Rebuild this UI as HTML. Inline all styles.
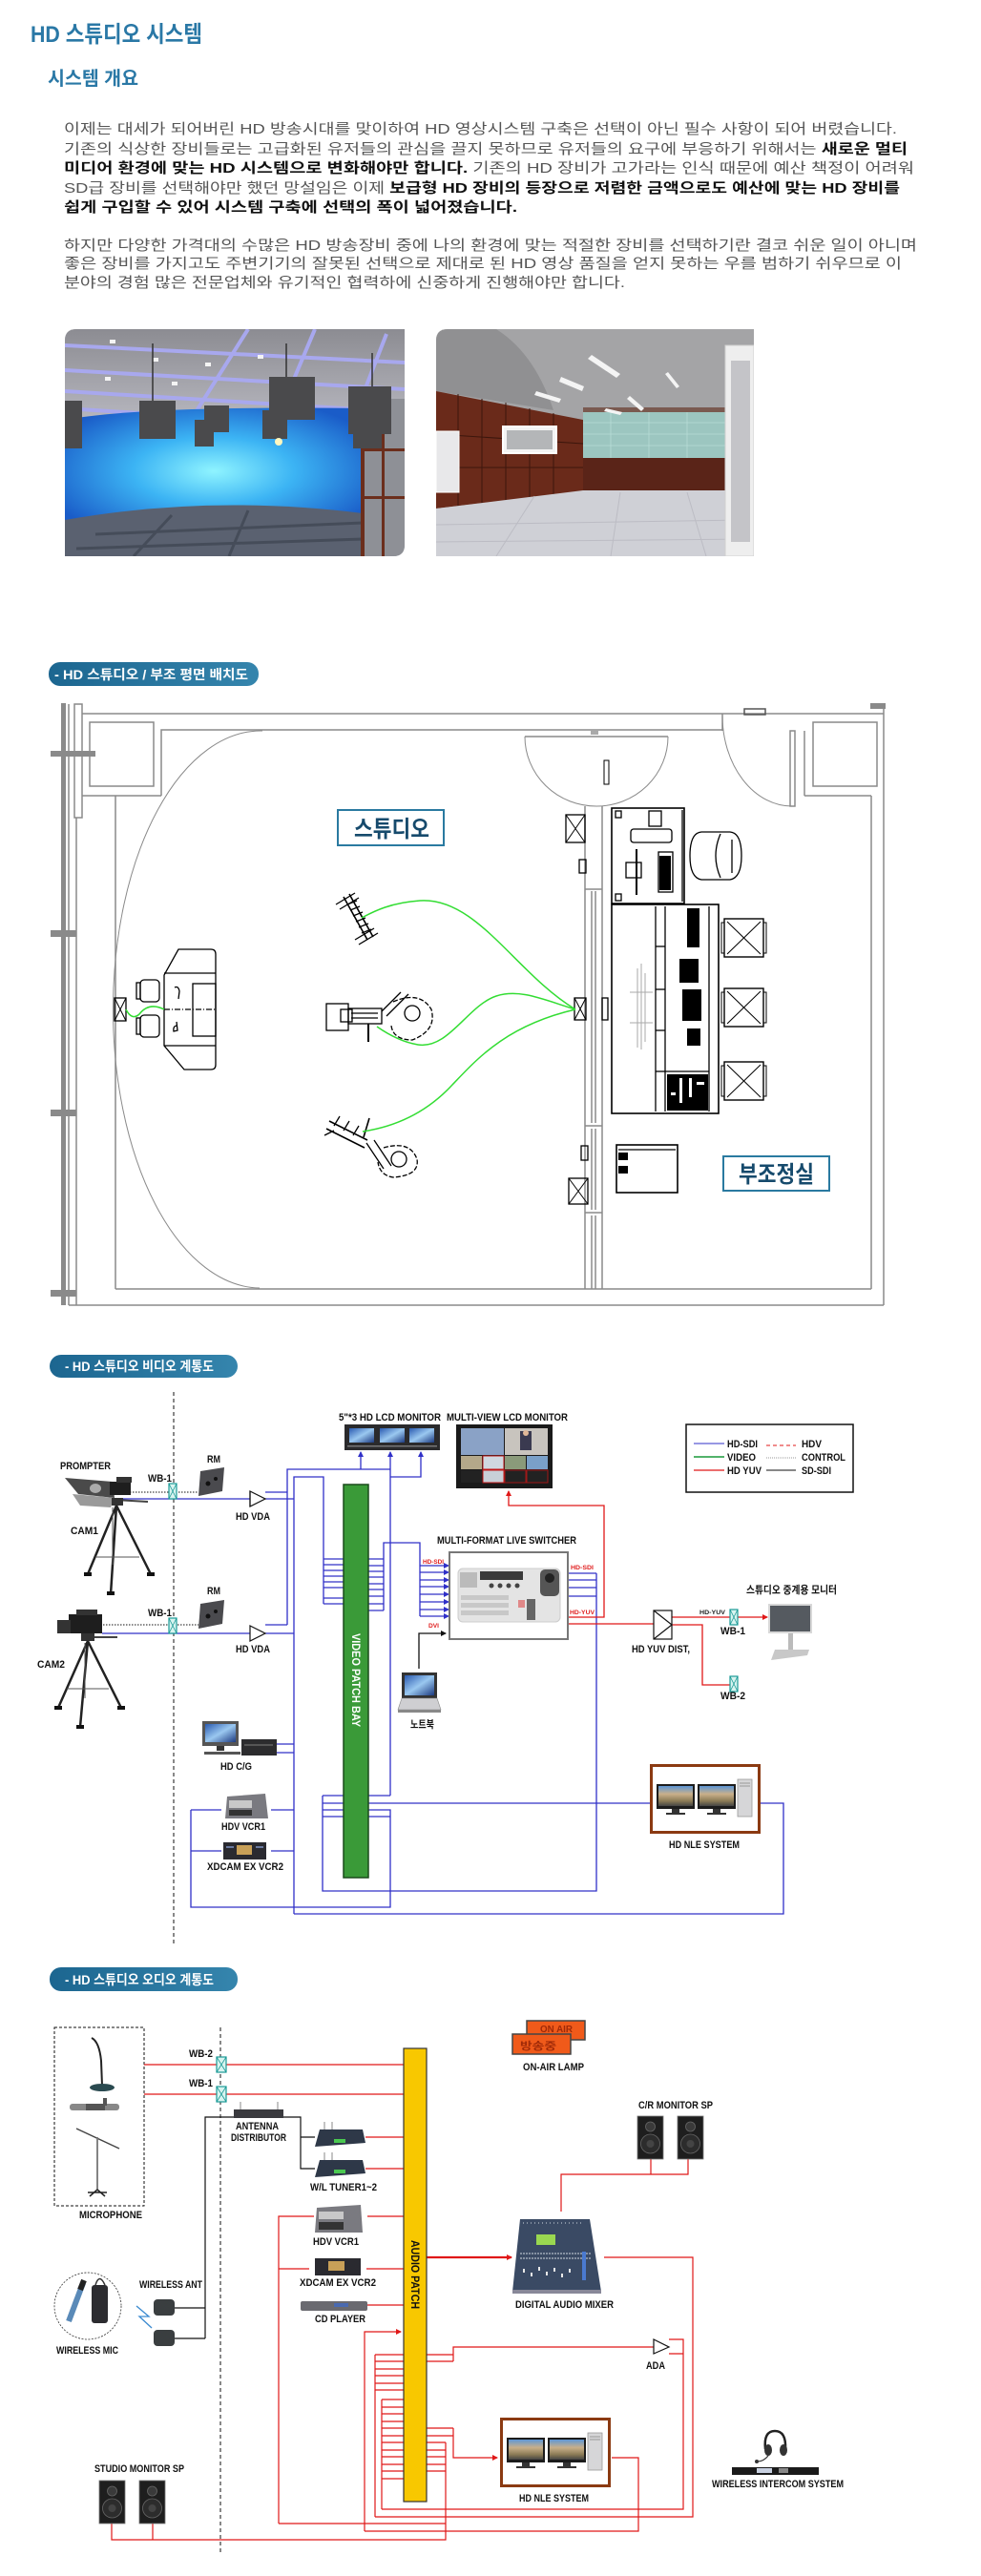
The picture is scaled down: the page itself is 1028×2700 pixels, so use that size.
<!DOCTYPE html>
<html><head><meta charset="utf-8"><style>
html,body{margin:0;padding:0;background:#fff;}
body{width:1028px;height:2700px;overflow:hidden;}
svg{display:block;}
text{font-family:"Liberation Sans","Noto Sans CJK KR",sans-serif;}
.l{font-size:11px;font-weight:bold;fill:#111;}
.s{font-size:6px;font-weight:bold;fill:#e02020;}
.p{font-size:15px;fill:#555;}
.b{font-weight:bold;fill:#111;}
</style></head><body>
<svg width="1028" height="2700" viewBox="0 0 1028 2700" xmlns="http://www.w3.org/2000/svg">
<defs>
<linearGradient id="pill" x1="0" y1="0" x2="1" y2="0"><stop offset="0" stop-color="#1c6690"/><stop offset="1" stop-color="#3585ad"/></linearGradient>
<linearGradient id="ceil" x1="0" y1="0" x2="0" y2="1"><stop offset="0" stop-color="#8c8c92"/><stop offset="1" stop-color="#b8b8c0"/></linearGradient>
<radialGradient id="cyc" cx="0.5" cy="0.5" r="0.6"><stop offset="0" stop-color="#8ff4ff"/><stop offset="0.45" stop-color="#3cb4f4"/><stop offset="1" stop-color="#1a5cc8"/></radialGradient>
<linearGradient id="bld" x1="0" y1="0" x2="0" y2="1"><stop offset="0" stop-color="#5d96d6"/><stop offset="0.4" stop-color="#c9b08a"/><stop offset="0.75" stop-color="#8a7a55"/><stop offset="1" stop-color="#444"/></linearGradient>
<linearGradient id="scr" x1="0" y1="0" x2="1" y2="1"><stop offset="0" stop-color="#2a5ab0"/><stop offset="0.5" stop-color="#9ac8f0"/><stop offset="1" stop-color="#1c3a80"/></linearGradient>
<marker id="ab" markerWidth="6" markerHeight="6" refX="5" refY="3" orient="auto" markerUnits="userSpaceOnUse"><path d="M0,0 L6,3 L0,6 Z" fill="#3030c8"/></marker>
<marker id="ar" markerWidth="6" markerHeight="6" refX="5" refY="3" orient="auto" markerUnits="userSpaceOnUse"><path d="M0,0 L6,3 L0,6 Z" fill="#e01818"/></marker>
<marker id="ak" markerWidth="6" markerHeight="6" refX="5" refY="3" orient="auto" markerUnits="userSpaceOnUse"><path d="M0,0 L6,3 L0,6 Z" fill="#111"/></marker>
<clipPath id="cp1"><path d="M80,345 H424 V571 Q424,583 412,583 H68 V357 Q68,345 80,345 Z"/></clipPath>
<clipPath id="cp2"><path d="M469,345 H790 V583 H457 V357 Q457,345 469,345 Z"/></clipPath>
<g id="nle">
 <rect x="1.5" y="1.5" width="113" height="70" fill="#fff" stroke="#8b3a12" stroke-width="3"/>
 <rect x="7" y="21" width="40" height="26" fill="#1c1c1c"/><rect x="9" y="23" width="36" height="21" fill="url(#bld)"/>
 <rect x="23" y="47" width="8" height="4" fill="#333"/><rect x="17" y="51" width="20" height="2" fill="#333"/>
 <rect x="50" y="21" width="40" height="26" fill="#1c1c1c"/><rect x="52" y="23" width="36" height="21" fill="url(#bld)"/>
 <rect x="66" y="47" width="8" height="4" fill="#333"/><rect x="60" y="51" width="20" height="2" fill="#333"/>
 <rect x="92" y="16" width="15" height="39" fill="#d6d6d8" stroke="#999" stroke-width="0.8"/>
 <line x1="94" y1="20" x2="105" y2="20" stroke="#999"/><line x1="94" y1="23" x2="105" y2="23" stroke="#999"/>
</g>
<g id="spk">
 <rect width="27" height="45" fill="#1e1e1e" stroke="#777" stroke-width="0.8"/>
 <circle cx="13.5" cy="11" r="5" fill="#3a3a3a" stroke="#666" stroke-width="0.8"/>
 <circle cx="13.5" cy="29" r="10" fill="#2c2c2c" stroke="#666" stroke-width="0.8"/>
 <circle cx="13.5" cy="29" r="4" fill="#444"/>
</g>
<g id="wbv"><rect x="0" y="0" width="8" height="16" fill="#d8f4f0" stroke="#1a9a96" stroke-width="1.2"/><path d="M0,0 L8,16 M8,0 L0,16" stroke="#1a9a96" stroke-width="0.8"/></g>
<g id="wba"><rect x="0" y="0" width="10" height="16" fill="#d8f4f0" stroke="#1a9a96" stroke-width="1.2"/><path d="M0,0 L10,16 M10,0 L0,16" stroke="#1a9a96" stroke-width="0.8"/></g>
<g id="xch"><rect x="0" y="0" width="41" height="40" fill="none" stroke="#000" stroke-width="1.4"/><path d="M3,3 L38,37 M38,3 L3,37" stroke="#000" stroke-width="1"/><rect x="-3" y="4" width="3" height="32" fill="none" stroke="#000"/><rect x="41" y="4" width="3" height="32" fill="none" stroke="#000"/></g>
</defs>

<!-- ===== HEADER ===== -->
<text x="32" y="44" font-size="24" font-weight="bold" fill="#2a78a6" textLength="180" lengthAdjust="spacingAndGlyphs">HD 스튜디오 시스템</text>
<text x="50" y="89" font-size="20" font-weight="bold" fill="#2a78a6" textLength="95" lengthAdjust="spacingAndGlyphs">시스템 개요</text>

<text class="p" x="67" y="140" textLength="873" lengthAdjust="spacingAndGlyphs">이제는 대세가 되어버린 HD 방송시대를 맞이하여 HD 영상시스템 구축은 선택이 아닌 필수 사항이 되어 버렸습니다.</text>
<text class="p" x="67" y="161" textLength="884" lengthAdjust="spacingAndGlyphs">기존의 식상한 장비들로는 고급화된 유저들의 관심을 끌지 못하므로 유저들의 요구에 부응하기 위해서는 <tspan class="b">새로운 멀티</tspan></text>
<text class="p" x="67" y="181" textLength="891" lengthAdjust="spacingAndGlyphs"><tspan class="b">미디어 환경에 맞는 HD 시스템으로 변화해야만 합니다.</tspan>  기존의  HD 장비가 고가라는 인식 때문에 예산 책정이 어려워</text>
<text class="p" x="67" y="202" textLength="876" lengthAdjust="spacingAndGlyphs">SD급 장비를 선택해야만 했던 망설임은 이제 <tspan class="b">보급형 HD 장비의 등장으로 저렴한 금액으로도 예산에 맞는 HD 장비를</tspan></text>
<text class="p b" x="67" y="222" textLength="475" lengthAdjust="spacingAndGlyphs">쉽게 구입할 수 있어 시스템 구축에 선택의 폭이 넓어졌습니다.</text>
<text class="p" x="67" y="262" textLength="894" lengthAdjust="spacingAndGlyphs">하지만 다양한 가격대의 수많은 HD 방송장비 중에 나의 환경에 맞는 적절한 장비를 선택하기란 결코 쉬운 일이 아니며</text>
<text class="p" x="67" y="281" textLength="878" lengthAdjust="spacingAndGlyphs">좋은 장비를 가지고도 주변기기의 잘못된 선택으로 제대로 된 HD 영상 품질을 얻지 못하는 우를 범하기 쉬우므로 이</text>
<text class="p" x="67" y="301" textLength="588" lengthAdjust="spacingAndGlyphs">분야의 경험 많은 전문업체와 유기적인 협력하에 신중하게 진행해야만 합니다.</text>

<!-- ===== PHOTOS ===== -->
<g clip-path="url(#cp1)">
 <rect x="68" y="345" width="356" height="238" fill="#9c9ca4"/>
 <rect x="68" y="345" width="356" height="100" fill="url(#ceil)"/>
 <g stroke="#a8a8ee" stroke-width="4">
  <line x1="68" y1="362" x2="424" y2="380"/><line x1="68" y1="388" x2="424" y2="408"/><line x1="68" y1="410" x2="424" y2="432"/><line x1="68" y1="428" x2="380" y2="448"/>
  <line x1="260" y1="345" x2="200" y2="440"/><line x1="330" y1="345" x2="290" y2="440"/><line x1="405" y1="350" x2="370" y2="440"/>
 </g>
 <g fill="#f4f4f4"><rect x="115" y="356" width="6" height="4"/><rect x="160" y="375" width="6" height="4"/><rect x="215" y="380" width="6" height="4"/><rect x="270" y="372" width="6" height="4"/><rect x="110" y="395" width="6" height="4"/><rect x="180" y="400" width="6" height="4"/></g>
 <path d="M68,440 Q150,425 380,428 V560 H68 Z" fill="url(#cyc)"/>
 <path d="M68,545 Q220,518 380,538 V583 H68 Z" fill="#5a6170"/>
 <path d="M100,560 L380,548 M80,575 L380,565 M180,540 L140,583 M260,535 L240,583" stroke="#3d4450" stroke-width="3" opacity="0.7"/>
 <rect x="378" y="418" width="46" height="165" fill="#8e9096"/>
 <g fill="#6b2e1c"><rect x="378" y="418" width="4" height="165"/><rect x="400" y="430" width="3" height="153"/><rect x="378" y="470" width="46" height="3"/><rect x="378" y="520" width="46" height="3"/></g>
 <g fill="#4a4a4c">
  <rect x="68" y="420" width="18" height="50"/><rect x="146" y="420" width="38" height="40"/><rect x="204" y="440" width="20" height="28"/><rect x="214" y="425" width="26" height="28"/>
  <rect x="282" y="395" width="48" height="45"/><rect x="275" y="430" width="26" height="30"/><rect x="365" y="405" width="45" height="50"/><rect x="370" y="440" width="30" height="30"/>
 </g>
 <g stroke="#333" stroke-width="1.5"><line x1="160" y1="360" x2="160" y2="420"/><line x1="300" y1="360" x2="300" y2="395"/><line x1="390" y1="370" x2="390" y2="405"/></g>
 <circle cx="292" cy="463" r="4" fill="#fff7c0"/>
</g>
<g clip-path="url(#cp2)">
 <rect x="457" y="345" width="333" height="238" fill="#a4a4a6"/>
 <path d="M520,345 Q560,370 580,430 L457,410 V345 Z" fill="#909092"/>
 <polygon points="457,410 611,440 611,515 457,533" fill="#6a2a1a"/>
 <g stroke="#3c160c" stroke-width="1"><line x1="480" y1="413" x2="480" y2="532"/><line x1="505" y1="418" x2="505" y2="528"/><line x1="530" y1="422" x2="530" y2="525"/><line x1="555" y1="428" x2="555" y2="522"/><line x1="580" y1="433" x2="580" y2="518"/><line x1="457" y1="455" x2="611" y2="465"/><line x1="457" y1="490" x2="611" y2="490"/></g>
 <rect x="611" y="431" width="153" height="49" fill="#9cc6c0"/>
 <g stroke="#b8dcd6" stroke-width="0.8"><line x1="611" y1="443" x2="764" y2="443"/><line x1="611" y1="455" x2="764" y2="455"/><line x1="611" y1="467" x2="764" y2="467"/><line x1="640" y1="431" x2="640" y2="480"/><line x1="680" y1="431" x2="680" y2="480"/><line x1="720" y1="431" x2="720" y2="480"/></g>
 <rect x="611" y="427" width="153" height="5" fill="#7a5a50"/>
 <rect x="611" y="480" width="153" height="34" fill="#5a2418"/>
 <polygon points="457,533 611,514 764,514 790,583 457,583" fill="#cfd0d6"/>
 <g stroke="#bcbcc4" stroke-width="1"><line x1="457" y1="550" x2="780" y2="545"/><line x1="457" y1="568" x2="790" y2="565"/><line x1="560" y1="520" x2="520" y2="583"/><line x1="650" y1="516" x2="640" y2="583"/><line x1="720" y1="516" x2="740" y2="583"/></g>
 <rect x="527" y="447" width="56" height="28" fill="#f4f4f4" stroke="#fff" stroke-width="2"/>
 <rect x="531" y="451" width="48" height="20" fill="#b4b6b8"/>
 <rect x="457" y="452" width="24" height="64" fill="#e8e8ea" stroke="#fff"/>
 <rect x="760" y="362" width="30" height="221" fill="#eeeeee" stroke="#d0d0d0"/>
 <rect x="766" y="378" width="20" height="190" fill="#c4c4c8"/>
 <g fill="#f4f4f4"><polygon points="620,372 650,392 646,396 616,376"/><polygon points="588,395 612,405 610,410 586,400"/><polygon points="562,410 588,418 586,422 560,414"/><polygon points="660,415 675,428 672,431 657,418"/><polygon points="700,390 712,405 709,407 697,392"/><polygon points="635,428 652,432 650,435 633,431"/></g>
</g>

<!-- ===== PILL 1 ===== -->
<rect x="51" y="694" width="220" height="25" rx="12" fill="url(#pill)"/>
<text x="57" y="712" font-size="14" font-weight="bold" fill="#fff" textLength="203" lengthAdjust="spacingAndGlyphs">- HD 스튜디오 / 부조 평면 배치도</text>

<!-- ===== FLOOR PLAN ===== -->
<g fill="#8a8a8a">
 <rect x="64" y="737" width="5" height="631"/>
 <rect x="53" y="787" width="47" height="6"/><rect x="53" y="975" width="27" height="7"/><rect x="53" y="1163" width="27" height="7"/><rect x="53" y="1352" width="27" height="7"/>
 <rect x="912" y="737" width="16" height="6"/>
</g>
<g fill="none" stroke="#8a8a8a" stroke-width="1.5">
 <line x1="72" y1="738" x2="72" y2="1368"/>
 <rect x="78" y="738" width="8" height="119"/>
 <line x1="80" y1="857" x2="80" y2="1368"/>
 <line x1="86" y1="748" x2="926" y2="748"/>
 <line x1="926" y1="743" x2="926" y2="1368"/>
 <line x1="72" y1="1368" x2="926" y2="1368"/>
 <path d="M169,834 V765 H757"/>
 <line x1="86" y1="834" x2="169" y2="834"/>
 <line x1="121" y1="834" x2="121" y2="1351"/>
 <line x1="121" y1="1351" x2="913" y2="1351"/>
 <line x1="913" y1="834" x2="913" y2="1351"/>
 <line x1="843" y1="834" x2="913" y2="834"/>
 <rect x="94" y="757" width="67" height="67"/>
 <rect x="852" y="757" width="67" height="67"/>
 <line x1="757" y1="748" x2="757" y2="766"/>
 <rect x="828" y="766" width="5" height="79"/>
 <rect x="780" y="743" width="22" height="6" stroke="#555"/>
 <line x1="550" y1="772" x2="700" y2="772"/>
 <line x1="843" y1="766" x2="843" y2="834"/>
 <line x1="613" y1="845" x2="613" y2="1351"/>
 <line x1="631" y1="845" x2="631" y2="1351"/>
 <line x1="620" y1="934" x2="620" y2="1177"/><line x1="624" y1="934" x2="624" y2="1177"/>
 <line x1="620" y1="1183" x2="620" y2="1268"/><line x1="624" y1="1183" x2="624" y2="1268"/>
 <line x1="620" y1="1274" x2="620" y2="1351"/><line x1="624" y1="1274" x2="624" y2="1351"/>
 <line x1="613" y1="932" x2="631" y2="932"/><line x1="613" y1="1180" x2="631" y2="1180"/><line x1="613" y1="1271" x2="631" y2="1271"/>
</g>
<g fill="none" stroke="#8a8a8a" stroke-width="1">
 <path d="M275,766 A155,292 0 0 0 272,1350"/>
 <path d="M550,772 A75,73 0 0 0 700,772"/>
 <path d="M757,750 A73,95 0 0 0 830,845"/>
</g>
<rect x="619" y="766" width="8" height="4" fill="#aaa"/>
<rect x="633" y="797" width="5" height="25" fill="#fff" stroke="#000" stroke-width="1"/>

<!-- labels -->
<rect x="354" y="849" width="111" height="37" fill="#fff" stroke="#2a7aa0" stroke-width="2"/>
<text x="371" y="877" font-size="24" font-weight="bold" fill="#164a6c" textLength="79" lengthAdjust="spacingAndGlyphs">스튜디오</text>
<rect x="758" y="1212" width="111" height="36" fill="#fff" stroke="#2a7aa0" stroke-width="2"/>
<text x="774" y="1239" font-size="24" font-weight="bold" fill="#164a6c" textLength="79" lengthAdjust="spacingAndGlyphs">부조정실</text>

<!-- control room furniture -->
<g fill="none" stroke="#000" stroke-width="1.3">
 <rect x="641" y="847" width="76" height="100" stroke-width="1.6"/>
 <line x1="715" y1="849" x2="715" y2="945"/>
 <rect x="645" y="850" width="6" height="7"/><rect x="645" y="937" width="6" height="7"/>
 <rect x="680" y="850" width="13" height="16"/>
 <rect x="661" y="869" width="43" height="14" rx="3"/>
 <line x1="667" y1="890" x2="667" y2="938" stroke-width="2"/>
 <rect x="656" y="904" width="16" height="16"/>
 <rect x="690" y="893" width="15" height="42"/>
 <path d="M735,872 Q723,873 723,897 Q723,920 735,922 L765,922 Q777,920 777,897 Q777,873 765,872 Z"/>
 <path d="M755,874 Q745,897 755,920"/><line x1="767" y1="880" x2="767" y2="915"/>
 <rect x="641" y="948" width="112" height="219" stroke-width="1.6"/>
 <line x1="687" y1="950" x2="687" y2="1165"/><line x1="697" y1="950" x2="697" y2="1165"/>
 <line x1="687" y1="992" x2="697" y2="992"/><line x1="687" y1="1037" x2="697" y2="1037"/><line x1="687" y1="1080" x2="697" y2="1080"/><line x1="687" y1="1123" x2="697" y2="1123"/>
 <line x1="743" y1="950" x2="743" y2="1165"/><line x1="697" y1="1123" x2="743" y2="1123"/>
 <rect x="646" y="1200" width="64" height="50" stroke-width="1.6"/>
 <line x1="648" y1="1205" x2="708" y2="1205"/>
 <rect x="593" y="854" width="20" height="29"/><path d="M593,854 L613,883 M613,854 L593,883" stroke-width="1"/>
 <rect x="602" y="1046" width="12" height="23"/><path d="M602,1046 L614,1069 M614,1046 L602,1069" stroke-width="1"/>
 <rect x="596" y="1235" width="20" height="27"/><path d="M596,1235 L616,1262 M616,1235 L596,1262" stroke-width="1"/>
 <rect x="607" y="901" width="7" height="14"/><rect x="609" y="1201" width="7" height="15"/>
 <rect x="631" y="1046" width="6" height="23"/>
</g>
<g fill="none" stroke="#aaa" stroke-width="1"><line x1="668" y1="1015" x2="668" y2="1098"/><line x1="672" y1="1010" x2="672" y2="1100"/><line x1="676" y1="1020" x2="676" y2="1092"/><line x1="660" y1="1040" x2="684" y2="1040"/><line x1="660" y1="1072" x2="684" y2="1072"/></g>
<g fill="#000">
 <rect x="691" y="897" width="12" height="36"/>
 <rect x="720" y="952" width="13" height="41"/><rect x="712" y="1005" width="20" height="25"/><rect x="715" y="1037" width="20" height="33"/><rect x="720" y="1078" width="14" height="18"/>
 <rect x="699" y="1126" width="43" height="38"/>
 <rect x="648" y="1208" width="10" height="8"/><rect x="648" y="1222" width="10" height="8"/>
</g>
<g fill="#fff"><rect x="712" y="1130" width="3" height="26"/><rect x="722" y="1130" width="3" height="20"/><rect x="730" y="1134" width="8" height="3"/><rect x="703" y="1145" width="5" height="3"/></g>
<use href="#xch" x="759" y="963"/><use href="#xch" x="759" y="1036"/><use href="#xch" x="759" y="1113"/>

<!-- studio items -->
<g fill="none" stroke="#000" stroke-width="1.3">
 <path d="M187,995 H221 Q226,995 226,1000 V1116 Q226,1121 221,1121 H193 L172,1096 V1022 Z"/>
 <line x1="172" y1="1020" x2="226" y2="1020"/><line x1="172" y1="1096" x2="226" y2="1096"/>
 <rect x="202" y="1031" width="24" height="55"/>
 <line x1="172" y1="1058" x2="226" y2="1058" stroke-dasharray="6,2,1,2"/>
 <rect x="147" y="1027" width="20" height="23" rx="4"/><rect x="143" y="1030" width="4" height="17"/>
 <rect x="147" y="1064" width="20" height="23" rx="4"/><rect x="143" y="1067" width="4" height="17"/>
 <path d="M183,1035 q4,-2 5,4 l-1,8"/><path d="M186,1075 q-5,0 -4,6 l4,-1 l-1,-9"/>
 <rect x="120" y="1046" width="12" height="24"/><path d="M120,1046 L132,1070 M132,1046 L120,1070" stroke-width="1"/>
 <path d="M360,940 L385,985 M366,937 L391,982" stroke-width="1.6"/>
 <path d="M352,948 L372,936 M356,953 L376,941 M376,990 L396,978 M372,985 L392,973"/>
 <path d="M364,948 L374,944 M367,954 L377,950 M370,960 L380,956 M373,966 L383,962 M376,972 L386,968 M379,978 L389,974"/>
 <rect x="342" y="1052" width="23" height="28"/>
 <rect x="357" y="1058" width="12" height="13"/>
 <rect x="365" y="1057" width="35" height="16"/><line x1="368" y1="1062" x2="396" y2="1062"/><line x1="368" y1="1067" x2="396" y2="1067"/>
 <line x1="386" y1="1073" x2="386" y2="1092" stroke-width="2"/>
 <path d="M400,1060 L420,1040 M405,1065 L428,1042"/>
 <path d="M412,1050 Q440,1038 452,1058 Q458,1080 432,1090 Q412,1090 410,1075" stroke-dasharray="5,2"/>
 <circle cx="432" cy="1062" r="8"/>
 <path d="M345,1175 L385,1195 M342,1183 L382,1203" stroke-width="1.6"/>
 <path d="M350,1180 L356,1170 M360,1185 L366,1175 M370,1190 L376,1180"/>
 <line x1="381" y1="1192" x2="387" y2="1172" stroke-width="1.6"/>
 <path d="M384,1198 L402,1225 M392,1195 L410,1222"/>
 <path d="M402,1203 Q430,1195 437,1215 Q440,1232 412,1234 Q398,1232 396,1218" stroke-dasharray="5,2"/>
 <circle cx="418" cy="1215" r="8"/>
 <line x1="340" y1="1190" x2="350" y2="1185"/>
</g>
<g fill="none" stroke="#33dd33" stroke-width="1.5">
 <path d="M603,1058 C540,1020 500,940 440,944 C410,946 392,955 379,962"/>
 <path d="M603,1058 C570,1048 545,1036 520,1044 C490,1054 470,1100 438,1095 C420,1092 405,1083 395,1076"/>
 <path d="M603,1058 C530,1075 500,1110 474,1137 C450,1163 420,1180 380,1186"/>
 <path d="M132,1058 Q138,1070 146,1063 Q156,1050 172,1058"/>
</g>

<!-- ===== PILL 2 ===== -->
<rect x="52" y="1420" width="197" height="24" rx="12" fill="url(#pill)"/>
<text x="68" y="1437" font-size="14" font-weight="bold" fill="#fff" textLength="156" lengthAdjust="spacingAndGlyphs">- HD 스튜디오 비디오 계통도</text>

<!-- ===== VIDEO DIAGRAM ===== -->
<line x1="182" y1="1459" x2="182" y2="2038" stroke="#111" stroke-width="1" stroke-dasharray="4,3"/>

<rect x="719" y="1493" width="175" height="71" fill="#fff" stroke="#111" stroke-width="1.5"/>
<line x1="727" y1="1513" x2="759" y2="1513" stroke="#3030c8" stroke-width="1"/>
<line x1="727" y1="1527" x2="759" y2="1527" stroke="#1a9a3a" stroke-width="1.5"/>
<line x1="727" y1="1541" x2="759" y2="1541" stroke="#e01818" stroke-width="1.2"/>
<line x1="803" y1="1515" x2="834" y2="1515" stroke="#e01818" stroke-width="1" stroke-dasharray="4,3"/>
<line x1="803" y1="1528" x2="834" y2="1528" stroke="#777" stroke-width="0.7" stroke-dasharray="1,1"/>
<line x1="803" y1="1541" x2="834" y2="1541" stroke="#111" stroke-width="1"/>
<text class="l" x="762" y="1517" textLength="32" lengthAdjust="spacingAndGlyphs">HD-SDI</text>
<text class="l" x="762" y="1531" textLength="30" lengthAdjust="spacingAndGlyphs">VIDEO</text>
<text class="l" x="762" y="1545" textLength="36" lengthAdjust="spacingAndGlyphs">HD YUV</text>
<text class="l" x="840" y="1517" textLength="21" lengthAdjust="spacingAndGlyphs">HDV</text>
<text class="l" x="840" y="1531" textLength="46" lengthAdjust="spacingAndGlyphs">CONTROL</text>
<text class="l" x="840" y="1545" textLength="31" lengthAdjust="spacingAndGlyphs">SD-SDI</text>

<g fill="none" stroke="#3030c8" stroke-width="1.3">
 <line x1="127" y1="1571" x2="262" y2="1571"/>
 <line x1="107" y1="1712" x2="262" y2="1712"/>
 <path d="M278,1564 H301 M278,1571 H308 M278,1703 H301 M278,1712 H308"/>
 <path d="M301,1703 V1540 H409"/>
 <path d="M378,1540 V1522" marker-end="url(#ab)"/>
 <path d="M409,1882 V1522" marker-end="url(#ab)"/>
 <path d="M409,1548 H441 V1522" marker-end="url(#ab)"/>
 <path d="M308,2006 V1548 H339 V1681"/>
 <path d="M339,1634 H360 M339,1640 H360 M339,1646 H360 M339,1652 H360 M339,1658 H360 M339,1664 H360 M339,1675 H360 M339,1681 H360"/>
 <path d="M386,1634 H402 M386,1641 H402 M386,1647 H402 M386,1653 H402 M386,1660 H402 M386,1666 H402 M386,1673 H402 M386,1681 H402 M386,1688 H402"/>
 <path d="M402,1688 V1617 H440 V1694"/>
 <path d="M440,1641 H470" marker-end="url(#ab)"/><path d="M440,1648 H470" marker-end="url(#ab)"/><path d="M440,1656 H470" marker-end="url(#ab)"/><path d="M440,1663 H470" marker-end="url(#ab)"/>
 <path d="M440,1671 H470" marker-end="url(#ab)"/><path d="M440,1679 H470" marker-end="url(#ab)"/><path d="M440,1687 H470" marker-end="url(#ab)"/><path d="M440,1694 H470" marker-end="url(#ab)"/>
 <path d="M290,1828 H308 M290,1837 H308"/>
 <path d="M200,1897 H232 M284,1897 H308 M200,1940 H232 M284,1940 H308"/>
 <path d="M200,1897 V1999 H409 V1897 H386"/>
 <path d="M308,2006 H821 V1890 H797"/>
 <path d="M386,1890 H681"/>
 <path d="M386,1882 H409 M386,1904 H409"/>
 <path d="M338,1882 V1982 H625 V1649"/>
 <path d="M338,1882 H360 M338,1890 H360 M338,1897 H360 M338,1904 H360"/>
 <path d="M595,1649 H625 M595,1656 H625 M595,1664 H625 M595,1673 H625"/>
</g>
<g stroke="#111" stroke-width="1" stroke-dasharray="1.5,1.5"><line x1="133" y1="1564" x2="208" y2="1564"/><line x1="105" y1="1703" x2="208" y2="1703"/></g>
<g fill="none" stroke="#e01818" stroke-width="1.3">
 <path d="M595,1695 H633 V1578 H533 V1563" marker-end="url(#ar)"/>
 <path d="M595,1702 H685"/>
 <path d="M704,1695 H765 M772,1695 H804" marker-end="url(#ar)"/>
 <path d="M704,1703 H736 V1766 H765"/>
</g>
<path d="M439,1749 V1712 H467" fill="none" stroke="#111" stroke-width="1.3" marker-end="url(#ak)"/>

<use href="#wbv" x="177" y="1555"/><use href="#wbv" x="177" y="1696"/>
<use href="#wbv" x="765" y="1687"/><use href="#wbv" x="765" y="1757"/>
<g fill="#fff" stroke="#111" stroke-width="1.2">
 <path d="M262,1563 L278,1571 L262,1579 Z"/><line x1="262" y1="1563" x2="262" y2="1579"/>
 <path d="M262,1704 L278,1712 L262,1720 Z"/>
 <rect x="685" y="1688" width="19" height="30"/>
 <path d="M685,1688 L704,1703 L685,1718" fill="none"/>
</g>
<rect x="360" y="1556" width="26" height="412" fill="#3a9a38" stroke="#1a4a1a" stroke-width="1.5"/>
<text transform="translate(369,1712) rotate(90)" font-size="12" font-weight="bold" fill="#fff" textLength="98" lengthAdjust="spacingAndGlyphs">VIDEO PATCH BAY</text>

<rect x="361" y="1493" width="100" height="27" fill="#2a2a2c"/>
<rect x="366" y="1497" width="26" height="15" fill="url(#scr)"/><rect x="398" y="1497" width="26" height="15" fill="url(#scr)"/><rect x="429" y="1497" width="26" height="15" fill="url(#scr)"/>
<g fill="#777"><rect x="364" y="1515" width="94" height="1.5"/></g>
<rect x="478" y="1493" width="101" height="67" fill="#1a1a1a"/>
<rect x="483" y="1497" width="45" height="28" fill="#8aa2c6"/><rect x="529" y="1497" width="45" height="28" fill="#c8c4be"/>
<rect x="545" y="1500" width="12" height="20" fill="#3a3a50"/><circle cx="551" cy="1502" r="3" fill="#e0b898"/>
<rect x="483" y="1526" width="22" height="14" fill="#b4a88a"/><rect x="506" y="1526" width="22" height="14" fill="#d0d8e0" stroke="#c01818"/><rect x="529" y="1526" width="22" height="14" fill="#8a9a7a"/><rect x="552" y="1526" width="22" height="14" fill="#7aa0c8"/>
<rect x="483" y="1541" width="22" height="13" fill="#222"/><rect x="506" y="1541" width="22" height="13" fill="#c8d0d8" stroke="#c01818"/><rect x="529" y="1541" width="22" height="13" fill="#222" stroke="#a01818"/><rect x="552" y="1541" width="22" height="13" fill="#222" stroke="#a01818"/>
<rect x="471" y="1627" width="124" height="91" fill="#fff" stroke="#777" stroke-width="2"/>
<rect x="480" y="1644" width="107" height="56" rx="5" fill="#e4e4e4" stroke="#ccc"/>
<rect x="482" y="1648" width="18" height="16" fill="#bbb"/>
<rect x="503" y="1647" width="45" height="9" fill="#3a3a3a"/>
<g fill="#444"><circle cx="515" cy="1662" r="2.5"/><circle cx="524" cy="1662" r="2.5"/><circle cx="533" cy="1662" r="2.5"/><circle cx="542" cy="1662" r="2.5"/></g>
<rect x="566" y="1645" width="20" height="28" rx="5" fill="#555"/><circle cx="576" cy="1654" r="5" fill="#222"/>
<g fill="#c8c8c8"><rect x="483" y="1672" width="50" height="5"/><rect x="483" y="1680" width="50" height="5"/><rect x="483" y="1688" width="50" height="5"/></g>
<rect x="552" y="1676" width="9" height="22" fill="#666"/><rect x="543" y="1677" width="7" height="8" fill="#e08888"/>
<rect x="421" y="1753" width="37" height="27" fill="#333"/><rect x="424" y="1756" width="31" height="21" fill="url(#scr)"/>
<polygon points="421,1780 458,1780 462,1792 417,1792" fill="#cfcfd2" stroke="#888" stroke-width="0.6"/>
<rect x="417" y="1792" width="45" height="3" fill="#888"/>
<rect x="805" y="1681" width="46" height="31" fill="#d8d8d8"/><rect x="807" y="1683" width="42" height="27" fill="#555a60"/>
<rect x="826" y="1712" width="5" height="17" fill="#bbb"/>
<polygon points="812,1729 848,1729 846,1735 808,1740" fill="#c8c8c8"/>
<use href="#nle" x="681" y="1849"/>
<rect x="212" y="1804" width="38" height="26" fill="#555"/><rect x="215" y="1807" width="32" height="19" fill="url(#scr)"/>
<rect x="227" y="1830" width="8" height="5" fill="#333"/><rect x="214" y="1836" width="38" height="3" fill="#555"/>
<rect x="253" y="1823" width="37" height="17" fill="#2c2c2e"/><rect x="256" y="1828" width="30" height="2" fill="#555"/>
<polygon points="238,1883 278,1880 281,1906 236,1906" fill="#7a7a80"/><rect x="240" y="1887" width="24" height="8" fill="#c8c8c8"/><rect x="240" y="1897" width="24" height="6" fill="#333"/>
<rect x="234" y="1931" width="45" height="18" fill="#2a2a30"/><rect x="248" y="1934" width="16" height="10" fill="#c8a058"/><g fill="#6a7aa0"><rect x="237" y="1935" width="8" height="2"/><rect x="268" y="1935" width="8" height="2"/></g>
<polygon points="210,1542 235,1538 233,1563 208,1568" fill="#4a4a4e"/><g fill="#111"><circle cx="218" cy="1555" r="2.5"/><circle cx="226" cy="1550" r="2"/></g>
<polygon points="210,1681 235,1677 233,1702 208,1707" fill="#4a4a4e"/><g fill="#111"><circle cx="218" cy="1694" r="2.5"/><circle cx="226" cy="1689" r="2"/></g>
<polygon points="68,1549 118,1553 120,1570 82,1566" fill="#4a4a4a"/>
<polygon points="76,1566 120,1570 116,1580 84,1578" fill="#9a9a9a"/>
<ellipse cx="100" cy="1560" rx="6" ry="5" fill="#aaa"/>
<rect x="115" y="1553" width="22" height="14" fill="#1e1e1e"/><rect x="122" y="1548" width="16" height="6" fill="#333"/>
<line x1="120" y1="1572" x2="155" y2="1574" stroke="#444" stroke-width="2"/>
<rect x="117" y="1570" width="12" height="8" fill="#333"/>
<g stroke="#222" stroke-width="2.5" fill="none"><path d="M122,1578 L92,1650 M122,1578 L116,1671 M122,1578 L158,1650"/></g>
<g stroke="#555" stroke-width="1"><line x1="118" y1="1580" x2="118" y2="1640"/><line x1="100" y1="1632" x2="146" y2="1632"/></g>
<g fill="#111"><rect x="88" y="1648" width="8" height="4"/><rect x="112" y="1668" width="8" height="4"/><rect x="154" y="1648" width="8" height="4"/></g>
<rect x="72" y="1692" width="35" height="20" fill="#1e1e1e"/><rect x="60" y="1698" width="14" height="14" fill="#333"/><rect x="80" y="1687" width="22" height="6" fill="#333"/>
<line x1="95" y1="1716" x2="123" y2="1716" stroke="#444" stroke-width="2"/>
<rect x="85" y="1712" width="14" height="8" fill="#333"/>
<g stroke="#222" stroke-width="2.5" fill="none"><path d="M92,1720 L61,1790 M92,1720 L84,1810 M92,1720 L127,1790"/></g>
<g stroke="#555" stroke-width="1"><line x1="89" y1="1722" x2="89" y2="1780"/><line x1="70" y1="1770" x2="114" y2="1770"/></g>
<g fill="#111"><rect x="57" y="1788" width="8" height="4"/><rect x="80" y="1808" width="8" height="4"/><rect x="123" y="1788" width="8" height="4"/></g>

<text class="l" x="355" y="1489" textLength="107" lengthAdjust="spacingAndGlyphs">5"*3 HD LCD MONITOR</text>
<text class="l" x="468" y="1489" textLength="127" lengthAdjust="spacingAndGlyphs">MULTI-VIEW LCD MONITOR</text>
<text class="l" x="63" y="1540" textLength="53" lengthAdjust="spacingAndGlyphs">PROMPTER</text>
<text class="l" x="74" y="1608" textLength="29" lengthAdjust="spacingAndGlyphs">CAM1</text>
<text class="l" x="155" y="1553" textLength="25" lengthAdjust="spacingAndGlyphs">WB-1</text>
<text class="l" x="217" y="1533" textLength="14" lengthAdjust="spacingAndGlyphs">RM</text>
<text class="l" x="247" y="1593" textLength="36" lengthAdjust="spacingAndGlyphs">HD VDA</text>
<text class="l" x="217" y="1671" textLength="14" lengthAdjust="spacingAndGlyphs">RM</text>
<text class="l" x="155" y="1694" textLength="25" lengthAdjust="spacingAndGlyphs">WB-1</text>
<text class="l" x="247" y="1732" textLength="36" lengthAdjust="spacingAndGlyphs">HD VDA</text>
<text class="l" x="39" y="1748" textLength="29" lengthAdjust="spacingAndGlyphs">CAM2</text>
<text class="l" x="231" y="1855" textLength="33" lengthAdjust="spacingAndGlyphs">HD C/G</text>
<text class="l" x="232" y="1918" textLength="46" lengthAdjust="spacingAndGlyphs">HDV VCR1</text>
<text class="l" x="217" y="1960" textLength="80" lengthAdjust="spacingAndGlyphs">XDCAM EX VCR2</text>
<text class="l" x="458" y="1618" textLength="146" lengthAdjust="spacingAndGlyphs">MULTI-FORMAT LIVE SWITCHER</text>
<text class="s" x="443" y="1639" textLength="22" lengthAdjust="spacingAndGlyphs">HD-SDI</text>
<text class="s" x="598" y="1645" textLength="24" lengthAdjust="spacingAndGlyphs">HD-SDI</text>
<text class="s" x="597" y="1692" textLength="26" lengthAdjust="spacingAndGlyphs">HD-YUV</text>
<text class="s" x="449" y="1706" textLength="11" lengthAdjust="spacingAndGlyphs">DVI</text>
<text class="l" x="430" y="1811" textLength="25" lengthAdjust="spacingAndGlyphs">노트북</text>
<text class="l" x="662" y="1732" textLength="61" lengthAdjust="spacingAndGlyphs">HD YUV DIST,</text>
<text x="733" y="1692" font-size="6" font-weight="bold" fill="#222" textLength="27" lengthAdjust="spacingAndGlyphs">HD-YUV</text>
<text class="l" x="755" y="1713" textLength="26" lengthAdjust="spacingAndGlyphs">WB-1</text>
<text class="l" x="755" y="1781" textLength="26" lengthAdjust="spacingAndGlyphs">WB-2</text>
<text class="l" x="782" y="1670" textLength="95" lengthAdjust="spacingAndGlyphs">스튜디오 중계용 모니터</text>
<text class="l" x="701" y="1937" textLength="74" lengthAdjust="spacingAndGlyphs">HD NLE SYSTEM</text>

<!-- ===== PILL 3 ===== -->
<rect x="52" y="2062" width="197" height="25" rx="12" fill="url(#pill)"/>
<text x="68" y="2080" font-size="14" font-weight="bold" fill="#fff" textLength="156" lengthAdjust="spacingAndGlyphs">- HD 스튜디오 오디오 계통도</text>

<!-- ===== AUDIO DIAGRAM ===== -->
<line x1="231" y1="2125" x2="231" y2="2677" stroke="#111" stroke-width="1" stroke-dasharray="4,3"/>
<rect x="57" y="2125" width="94" height="187" fill="none" stroke="#111" stroke-width="1" stroke-dasharray="3,2"/>
<ellipse cx="92" cy="2417" rx="35" ry="35" fill="none" stroke="#333" stroke-width="0.8" stroke-dasharray="2,1.5"/>

<g fill="none" stroke="#e01818" stroke-width="1.2">
 <path d="M151,2164 H227 M237,2164 H423"/>
 <path d="M151,2195 H227 M237,2195 H423"/>
 <path d="M383,2240 H423 M383,2273 H423"/>
 <path d="M292,2645 V2323 H329 M385,2323 H423"/>
 <path d="M292,2378 H324 M384,2378 H423 M385,2416 H423"/>
 <path d="M382,2653 V2444 H420" marker-end="url(#ar)"/>
 <path d="M393,2638 V2468 M393,2468 H423 M393,2475 H423 M393,2483 H423 M393,2490 H423 M393,2498 H423 M393,2505 H423"/>
 <path d="M400,2630 V2515 M400,2515 H423 M400,2523 H423 M400,2530 H423 M400,2538 H423 M400,2545 H423 M400,2553 H423 M400,2560 H423 M400,2568 H423 M400,2575 H423 M400,2583 H423 M400,2590 H423 M400,2598 H423"/>
 <path d="M447,2468 H475 M447,2475 H475 M475,2475 V2460 H685"/>
 <path d="M447,2545 H475 M447,2553 H475 M475,2545 V2576 H521" marker-end="url(#ar)"/>
 <path d="M447,2560 H467 M447,2568 H467 M447,2575 H467 M447,2583 H467 M447,2590 H467 M467,2560 V2662 H117 V2644 M160,2662 V2644"/>
 <path d="M292,2645 H467"/>
 <path d="M382,2653 H669 V2576 H641"/>
 <path d="M393,2638 H726 V2366 H633"/>
 <path d="M400,2630 H716 V2452 H701 M716,2467 H701"/>
 <path d="M588,2318 V2279 H721 V2263 M682,2279 V2263"/>
</g>
<path d="M447,2366 H536" fill="none" stroke="#e01818" stroke-width="2.2" marker-end="url(#ar)"/>
<g fill="none" stroke="#111" stroke-width="1.2">
 <path d="M183,2419 H215 M183,2451 H215 M215,2451 V2219 H245"/>
 <path d="M297,2219 H315 V2273 H330 M315,2240 H330"/>
</g>
<use href="#wba" x="227" y="2156"/><use href="#wba" x="227" y="2187"/>
<rect x="423" y="2147" width="24" height="475" fill="#f8c800" stroke="#333" stroke-width="1.2"/>
<text transform="translate(431,2348) rotate(90)" font-size="12" font-weight="bold" fill="#111" textLength="72" lengthAdjust="spacingAndGlyphs">AUDIO PATCH</text>
<path d="M685,2452 L701,2460 L685,2467 Z" fill="#fff" stroke="#111" stroke-width="1.2"/>
<path d="M96,2136 Q104,2140 106,2160 L107,2186" fill="none" stroke="#222" stroke-width="2"/>
<ellipse cx="107" cy="2188" rx="13" ry="4" fill="#2a4a50"/>
<rect x="73" y="2205" width="52" height="7" rx="3" fill="#888"/><rect x="108" y="2199" width="4" height="8" fill="#555"/><rect x="90" y="2205" width="20" height="7" fill="#555"/>
<line x1="80" y1="2231" x2="125" y2="2252" stroke="#444" stroke-width="1.5"/>
<line x1="102" y1="2240" x2="102" y2="2295" stroke="#777" stroke-width="1.8"/>
<path d="M92,2298 L112,2298 M102,2295 L94,2302 M102,2295 L110,2302" stroke="#222" stroke-width="1.5"/>
<line x1="72" y1="2433" x2="87" y2="2393" stroke="#5a8ab8" stroke-width="6"/><line x1="84" y1="2400" x2="88" y2="2390" stroke="#222" stroke-width="6"/>
<rect x="96" y="2395" width="17" height="40" rx="3" fill="#2c2c30"/><path d="M100,2395 Q104,2382 110,2395" fill="none" stroke="#333" stroke-width="1.5"/>
<path d="M143,2417 L156,2428 L146,2428 L159,2440" fill="none" stroke="#3a8ad0" stroke-width="1.3"/>
<rect x="161" y="2410" width="22" height="17" rx="4" fill="#3a3e40"/><rect x="161" y="2442" width="22" height="17" rx="4" fill="#3a3e40"/>
<rect x="245" y="2211" width="52" height="9" fill="#3a3a3e"/><line x1="252" y1="2211" x2="252" y2="2203" stroke="#888"/><line x1="291" y1="2211" x2="291" y2="2203" stroke="#888"/>
<polygon points="335,2232 380,2232 383,2246 330,2250" fill="#2e3848"/><rect x="350" y="2242" width="12" height="4" fill="#4ac850"/><line x1="340" y1="2232" x2="340" y2="2224" stroke="#888"/><line x1="348" y1="2232" x2="348" y2="2224" stroke="#888"/>
<polygon points="335,2264 380,2264 383,2278 330,2282" fill="#2e3848"/><rect x="350" y="2274" width="12" height="4" fill="#4ac850"/><line x1="340" y1="2264" x2="340" y2="2256" stroke="#888"/><line x1="348" y1="2264" x2="348" y2="2256" stroke="#888"/>
<polygon points="332,2314 378,2311 380,2340 330,2340" fill="#7a7a80"/><rect x="334" y="2318" width="26" height="8" fill="#c8c8c8"/><rect x="334" y="2329" width="26" height="8" fill="#333"/>
<rect x="330" y="2367" width="48" height="18" fill="#2a2a30"/><rect x="344" y="2370" width="17" height="10" fill="#c8a058"/>
<rect x="315" y="2412" width="70" height="10" rx="2" fill="#6a6a70"/><rect x="350" y="2414" width="15" height="4" fill="#4a6ab0"/>
<use href="#spk" x="104" y="2600"/><use href="#spk" x="146" y="2600"/>
<use href="#spk" x="668" y="2218"/><use href="#spk" x="710" y="2218"/>
<rect x="552" y="2118" width="61" height="20" fill="#f05a1a" stroke="#444" stroke-width="1.5"/>
<text x="566" y="2130" font-size="10" font-weight="bold" fill="#a02a08" textLength="34" lengthAdjust="spacingAndGlyphs">ON AIR</text>
<rect x="537" y="2132" width="61" height="21" fill="#f05a1a" stroke="#444" stroke-width="1.5"/>
<text x="545" y="2148" font-size="11" font-weight="bold" fill="#a02a08" textLength="38" lengthAdjust="spacingAndGlyphs">방송중</text>
<polygon points="545,2326 618,2326 630,2402 537,2402" fill="#3a4a64"/>
<rect x="537" y="2400" width="93" height="4" fill="#889"/>
<rect x="562" y="2342" width="20" height="11" fill="#9ad850"/>
<g stroke="#d0d8e0" stroke-width="1"><line x1="548" y1="2330" x2="612" y2="2330" stroke-dasharray="1,3"/><line x1="545" y1="2362" x2="620" y2="2362" stroke-dasharray="2,1"/><line x1="545" y1="2367" x2="620" y2="2367" stroke-dasharray="2,1"/></g>
<g fill="#e8e8e8"><rect x="548" y="2378" width="2" height="4"/><rect x="556" y="2382" width="2" height="4"/><rect x="564" y="2376" width="2" height="4"/><rect x="572" y="2381" width="2" height="4"/><rect x="580" y="2377" width="2" height="4"/><rect x="588" y="2383" width="2" height="4"/><rect x="596" y="2378" width="2" height="4"/></g>
<rect x="610" y="2360" width="4" height="30" fill="#4a7ad0"/>
<use href="#nle" x="524" y="2534"/>
<path d="M802,2567 Q800,2548 812,2548 Q824,2548 823,2567" fill="none" stroke="#222" stroke-width="2.5"/>
<ellipse cx="805" cy="2568" rx="4" ry="6" fill="#333"/><ellipse cx="821" cy="2568" rx="4" ry="6" fill="#333"/>
<path d="M805,2574 Q800,2580 794,2580" fill="none" stroke="#333" stroke-width="1.2"/><circle cx="793" cy="2580" r="2" fill="#333"/>
<rect x="767" y="2586" width="91" height="8" fill="#1a1a1a"/><rect x="793" y="2587" width="16" height="5" fill="#c8d0e0"/><rect x="816" y="2587" width="10" height="5" fill="#888"/>

<text class="l" x="198" y="2156" textLength="25" lengthAdjust="spacingAndGlyphs">WB-2</text>
<text class="l" x="198" y="2187" textLength="25" lengthAdjust="spacingAndGlyphs">WB-1</text>
<text class="l" x="247" y="2232" textLength="45" lengthAdjust="spacingAndGlyphs">ANTENNA</text>
<text class="l" x="242" y="2244" textLength="58" lengthAdjust="spacingAndGlyphs">DISTRIBUTOR</text>
<text class="l" x="325" y="2296" textLength="70" lengthAdjust="spacingAndGlyphs">W/L TUNER1~2</text>
<text class="l" x="83" y="2325" textLength="66" lengthAdjust="spacingAndGlyphs">MICROPHONE</text>
<text class="l" x="328" y="2353" textLength="48" lengthAdjust="spacingAndGlyphs">HDV VCR1</text>
<text class="l" x="314" y="2396" textLength="80" lengthAdjust="spacingAndGlyphs">XDCAM EX VCR2</text>
<text class="l" x="330" y="2434" textLength="53" lengthAdjust="spacingAndGlyphs">CD PLAYER</text>
<text class="l" x="146" y="2398" textLength="66" lengthAdjust="spacingAndGlyphs">WIRELESS ANT</text>
<text class="l" x="59" y="2467" textLength="65" lengthAdjust="spacingAndGlyphs">WIRELESS MIC</text>
<text class="l" x="99" y="2591" textLength="94" lengthAdjust="spacingAndGlyphs">STUDIO MONITOR SP</text>
<text class="l" x="548" y="2170" textLength="64" lengthAdjust="spacingAndGlyphs">ON-AIR LAMP</text>
<text class="l" x="669" y="2210" textLength="78" lengthAdjust="spacingAndGlyphs">C/R MONITOR SP</text>
<text class="l" x="540" y="2419" textLength="103" lengthAdjust="spacingAndGlyphs">DIGITAL AUDIO MIXER</text>
<text class="l" x="677" y="2483" textLength="20" lengthAdjust="spacingAndGlyphs">ADA</text>
<text class="l" x="544" y="2622" textLength="73" lengthAdjust="spacingAndGlyphs">HD NLE SYSTEM</text>
<text class="l" x="746" y="2607" textLength="138" lengthAdjust="spacingAndGlyphs">WIRELESS INTERCOM SYSTEM</text>
</svg>
</body></html>
